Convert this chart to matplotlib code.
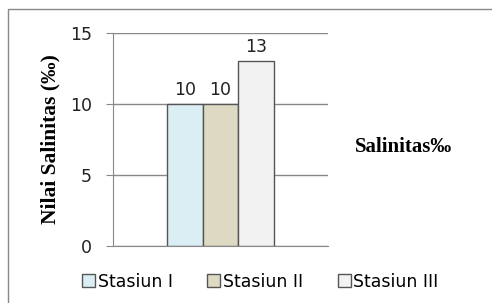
import matplotlib
matplotlib.use('Agg')
import matplotlib.pyplot as plt
from matplotlib.patches import Rectangle

# data
stations = ['Stasiun I', 'Stasiun II', 'Stasiun III']
salinity = [10, 10, 13]
colors = ['#DAEEF3', '#DDD9C3', '#F2F2F2']

fig = plt.figure(figsize=(4.92, 3.03), dpi=100)
ax = fig.add_axes([0.2297, 0.188, 0.437, 0.703])

bar_w = 0.33
offsets = [-bar_w, 0, bar_w]
bars = []
for i in range(len(stations)):
    b = ax.bar(offsets[i], salinity[i], bar_w, color=colors[i], edgecolor='#555555',
               linewidth=1, label=stations[i], zorder=3)
    bars.append(b)
    ax.text(offsets[i], salinity[i] + 0.35, str(salinity[i]), ha='center', va='bottom',
            fontsize=12.5, color='#222222')

ax.set_xlim(-1, 1)
ax.set_ylim(0, 15)
ax.set_yticks([0, 5, 10, 15])
ax.set_xticks([])
ax.yaxis.grid(True, color='#888888', linewidth=1, zorder=0)
for s in ['top', 'right']:
    ax.spines[s].set_visible(False)
ax.spines['left'].set_color('#888888')
ax.spines['bottom'].set_color('#888888')
ax.tick_params(axis='y', length=5, color='#888888', labelsize=12.5, labelcolor='#222222', pad=10)
ax.set_ylabel('Nilai Salinitas (‰)', family=['Liberation Serif', 'DejaVu Serif'],
              fontweight='bold', fontsize=15.5, labelpad=7)

fig.text(0.821, 0.515, 'Salinitas‰', family=['Liberation Serif', 'DejaVu Serif'],
         fontweight='bold', fontsize=15, ha='center', va='center')

fig.legend(handles=[b[0] for b in bars], labels=stations, loc='center',
           bbox_to_anchor=(0.529, 0.07), ncol=3, frameon=False, fontsize=12.5,
           handlelength=0.75, handleheight=0.75, handletextpad=0.15, columnspacing=2.0,
           borderpad=0)

fig.patches.append(Rectangle((8 / 492, -0.01), 1.0, 1 - 9 / 303 + 0.01,
                             transform=fig.transFigure, fill=False,
                             edgecolor='#888888', linewidth=1))

fig.savefig('out.png', dpi=100)
